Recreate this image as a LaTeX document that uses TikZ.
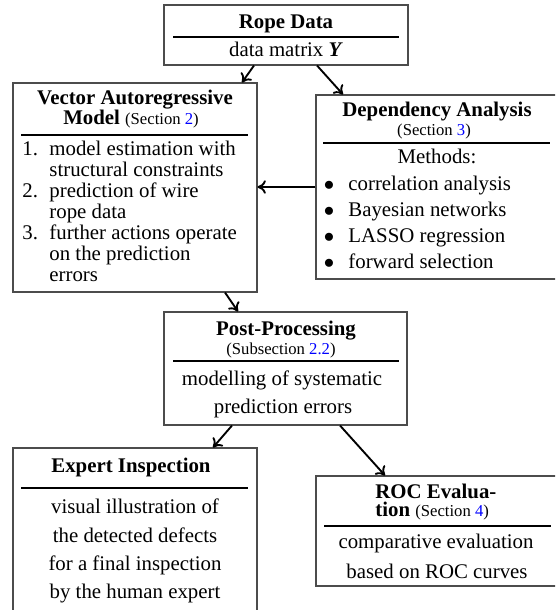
\documentclass[tikz,border=0pt]{standalone}
\usepackage{fontspec}
\setmainfont{Liberation Serif}
\usetikzlibrary{fit,calc,arrows.meta}
\begin{document}
\begin{tikzpicture}[x=0.48pt,y=-0.48pt,
  box/.style={draw=black!70,line width=0.5pt,inner sep=0pt},
  rule/.style={line width=1.1pt},
  arr/.style={-{To[length=4pt,width=6.5pt]},line width=0.9pt},
  ttl/.style={anchor=base,inner sep=0pt,font=\fontsize{10}{12}\selectfont\bfseries},
  txt/.style={anchor=base,inner sep=0pt,font=\fontsize{10}{12}\selectfont},
  lft/.style={anchor=base west,inner sep=0pt,font=\fontsize{10}{12}\selectfont}]
\newcommand{\secref}[2]{{\fontsize{8}{9}\selectfont\mdseries(#1~\textcolor{blue}{#2})}}
\clip (0,0) rectangle (555,610);

% boxes
\node[box,fit={(164,5)(408,65)}] (rope) {};
\node[box,fit={(13,83)(257,292)}] (var) {};
\node[box,fit={(316,95)(559,279)}] (dep) {};
\node[box,fit={(164,312)(407,425)}] (post) {};
\node[box,fit={(13,448)(257,640)}] (expert) {};
\node[box,fit={(316,476)(559,586)}] (roc) {};

% Rope Data
\node[ttl] (ropeT) at (286,29) {Rope Data};
\draw[rule] (173,37) -- (399,37);
\node[txt] (ropeB) at (286,57) {data matrix \textbf{\textit{Y}}};

% Vector autoregressive model
\node[ttl] (varT1) at (135,105) {Vector Autoregressive};
\node[ttl] (varT2) at (131,125) {Model \secref{Section}{2}};
\draw[rule] (21,135) -- (248,135);
\node[lft] (n1) at (22,156) {1.};
\node[lft] (i1a) at (49,156) {model estimation with};
\node[lft] (i1b) at (49,177) {structural constraints};
\node[lft] (n2) at (22,198) {2.};
\node[lft] (i2a) at (49,198) {prediction of wire};
\node[lft] (i2b) at (49,219) {rope data};
\node[lft] (n3) at (22,240) {3.};
\node[lft] (i3a) at (49,240) {further actions operate};
\node[lft] (i3b) at (49,261) {on the prediction};
\node[lft] (i3c) at (49,282) {errors};

% Dependency analysis
\node[ttl] (depT1) at (437,117) {Dependency Analysis};
\node[txt] (depT2) at (434,136) {\secref{Section}{3}};
\draw[rule] (323,143) -- (550,143);
\node[txt] (depM) at (437,164) {Methods:};
\foreach \y/\t [count=\k] in {191/correlation analysis,217/Bayesian networks,243/LASSO regression,269/forward selection}{
  \node[txt] (b\k) at (329,\y) {$\bullet$};
  \node[lft] (m\k) at (348,\y) {\t};
}

% Post-processing
\node[ttl] (postT1) at (286,335) {Post-Processing};
\node[txt] (postT2) at (281,354) {\secref{Subsection}{2.2}};
\draw[rule] (173,361) -- (399,361);
\node[txt] (postB1) at (282,385) {modelling of systematic};
\node[txt] (postB2) at (283,413) {prediction errors};

% Expert inspection
\node[ttl] (expT) at (131,472) {Expert Inspection};
\draw[rule] (21,488) -- (248,488);
\node[txt] (e1) at (135,513) {visual illustration of};
\node[txt] (e2) at (135,542) {the detected defects};
\node[txt] (e3) at (135,570) {for a final inspection};
\node[txt] (e4) at (135,598) {by the human expert};

% ROC evaluation
\node[ttl,anchor=base west] (rocT1) at (375,498) {ROC Evalua-};
\node[ttl,anchor=base west] (rocT2) at (375,516) {tion \secref{Section}{4}};
\draw[rule] (324,526) -- (551,526);
\node[txt] (r1) at (436,548) {comparative evaluation};
\node[txt] (r2) at (437,578) {based on ROC curves};

% connectors
\draw[arr] ($(rope.south)+(-32,0)$) -- ($(var.north)+(107,0)$);
\draw[arr] ($(rope.south)+(31,0)$) -- ($(dep.north)+(-94.5,0)$);
\draw[arr] (dep.west) -- (dep.west -| var.east);
\draw[arr] ($(var.south)+(90,0)$) -- ($(post.north)+(-47.5,0)$);
\draw[arr] ($(post.south)+(-53.5,0)$) -- ($(expert.north)+(78,0)$);
\draw[arr] ($(post.south)+(54.5,0)$) -- ($(roc.north)+(-52.5,0)$);
\end{tikzpicture}
\end{document}
